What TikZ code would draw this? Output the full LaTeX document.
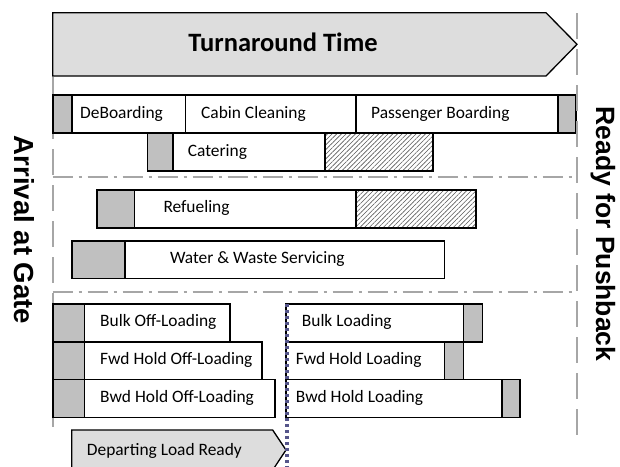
\documentclass[tikz,border=0pt]{standalone}
\usepackage{fontspec}
\setmainfont{Carlito}
\newfontfamily\sidefont{Liberation Sans}
\usetikzlibrary{patterns.meta}

\definecolor{barfill}{HTML}{DDDDDD}
\definecolor{capfill}{HTML}{C0C0C0}
\definecolor{guide}{HTML}{A6A6A6}
\definecolor{split}{HTML}{55558A}

% \cellbox{style}{name}{x1}{y1}{x2}{y2}: a box given by its top-left and bottom-right corners
\newcommand\cellbox[6]{%
  \node[#1, minimum width={(#5-#3)*1pt}, minimum height={(#6-#4)*1pt}] (#2) at (#3,#4) {};}

\begin{document}
\begin{tikzpicture}[x=1pt,y=-1pt,
  cell/.style={draw=black, line width=1.6pt, fill=white, inner sep=0pt, outer sep=0pt, anchor=north west},
  capcell/.style={cell, fill=capfill},
  hatchcell/.style={cell, pattern={Lines[angle=45,distance=3.3pt,line width=0.6pt]}, pattern color=black!65},
  lbl/.style={anchor=base west, inner sep=0pt, font=\fontsize{17.4}{20}\selectfont},
  sidelbl/.style={inner sep=0pt, rotate=-90, font=\sidefont\bfseries\fontsize{26.5}{30}\selectfont},
  vguide/.style={draw=guide, line width=2pt, dash pattern=on 26pt off 10pt},
  hguide/.style={draw=guide, line width=2pt, dash pattern=on 20pt off 6pt on 3pt off 6pt},
  banner/.style={draw=black, line width=1.3pt, fill=barfill, line join=miter},
  handover/.style={draw=split, line width=4pt, line cap=butt, dash pattern=on 3.4pt off 2.6pt},
]
\useasboundingbox (0,0) rectangle (620,466);

% guide lines: arrival, section dividers
\coordinate (arrTop) at (52.7,77);
\coordinate (arrBot) at (52.7,433);
\coordinate (rdyTop) at (576.5,13);
\coordinate (rdyBot) at (576.5,436);
\coordinate (divAl) at (52.7,176.5);
\coordinate (divAr) at (574,176.5);
\coordinate (divBl) at (52.7,291.7);
\coordinate (divBr) at (574,291.7);
\draw[vguide] (arrTop) -- (arrBot);
\draw[hguide] (divAl) -- (divAr);
\draw[hguide] (divBl) -- (divBr);

% overall banner
\draw[banner] (52.7,12.7) -- (546,12.7) -- (577,44.3) -- (546,76) -- (52.7,76) -- cycle;
\node[anchor=base, inner sep=0pt, font=\bfseries\fontsize{26.5}{30}\selectfont] (turn) at (283,51.7) {Turnaround Time};

% passenger side
\cellbox{capcell}{pA}{52.7}{95}{71.7}{132.7}
\cellbox{cell}{deb}{71.7}{95}{185.3}{132.7}
\cellbox{cell}{cab}{185.3}{95}{356}{132.7}
\cellbox{cell}{pax}{356}{95}{557.7}{132.7}
\cellbox{capcell}{pB}{557.7}{95}{576}{132.7}
\node[lbl] (debT) at (80,118) {DeBoarding};
\node[lbl] (cabT) at (201,118) {Cabin Cleaning};
\node[lbl] (paxT) at (371,118) {Passenger Boarding};

\cellbox{capcell}{catA}{147.3}{132.7}{172.7}{171}
\cellbox{cell}{cat}{172.7}{132.7}{325}{171}
\cellbox{hatchcell}{catH}{325}{132.7}{432.7}{171}
\node[lbl] (catT) at (187.6,156) {Catering};

% fuel and water
\cellbox{capcell}{fuA}{96.7}{190}{134.3}{227.7}
\cellbox{cell}{fu}{134.3}{190}{355.7}{227.7}
\cellbox{hatchcell}{fuH}{355.7}{190}{476}{227.7}
\node[lbl] (fuT) at (163.3,212.8) {Refueling};

\cellbox{capcell}{waA}{71.7}{240.7}{125}{278.3}
\cellbox{cell}{wa}{125}{240.7}{444.3}{278.3}
\node[lbl] (waT) at (169.8,263.5) {Water \& Waste Servicing};

% cargo off-loading
\cellbox{capcell}{boA}{52.7}{304}{84.3}{341.7}
\cellbox{cell}{bo}{84.3}{304}{230}{341.7}
\cellbox{capcell}{foA}{52.7}{341.7}{84.3}{379.3}
\cellbox{cell}{fo}{84.3}{341.7}{261.7}{379.3}
\cellbox{capcell}{woA}{52.7}{379.3}{84.3}{417.3}
\cellbox{cell}{wo}{84.3}{379.3}{275}{417.3}
\node[lbl] (boT) at (100,326.7) {Bulk Off-Loading};
\node[lbl] (foT) at (100,364.5) {Fwd Hold Off-Loading};
\node[lbl] (woT) at (100,402.3) {Bwd Hold Off-Loading};

% cargo loading
\cellbox{cell}{bl}{286}{304}{463.3}{341.7}
\cellbox{capcell}{blA}{463.3}{304}{482.3}{341.7}
\cellbox{cell}{fl}{286}{341.7}{444.3}{379.3}
\cellbox{capcell}{flA}{444.3}{341.7}{463.3}{379.3}
\cellbox{cell}{wl}{286}{379.3}{501.7}{417.3}
\cellbox{capcell}{wlA}{501.7}{379.3}{520}{417.3}
\node[lbl] (blT) at (301.7,326.7) {Bulk Loading};
\node[lbl] (flT) at (295.7,364.5) {Fwd Hold Loading};
\node[lbl] (wlT) at (295.7,402.3) {Bwd Hold Loading};

% departing load banner
\draw[banner] (71.7,430) -- (272.7,430) -- (286,450) -- (272.7,470) -- (71.7,470) -- cycle;
\node[lbl] (depT) at (86.7,455) {Departing Load Ready};

% hand-over line between off-loading and loading
\coordinate (splitTop) at (286.5,304);
\coordinate (splitBot) at (286.5,468);
\draw[handover] (splitTop) -- (splitBot);

% ready-for-pushback line
\draw[vguide] (rdyTop) -- (rdyBot);

% side captions
\node[sidelbl, font=\sidefont\bfseries\fontsize{27.6}{31}\selectfont] (arrival) at (24,230) {Arrival at Gate};
\node[sidelbl] (ready) at (603,234) {Ready for Pushback};
\end{tikzpicture}
\end{document}
